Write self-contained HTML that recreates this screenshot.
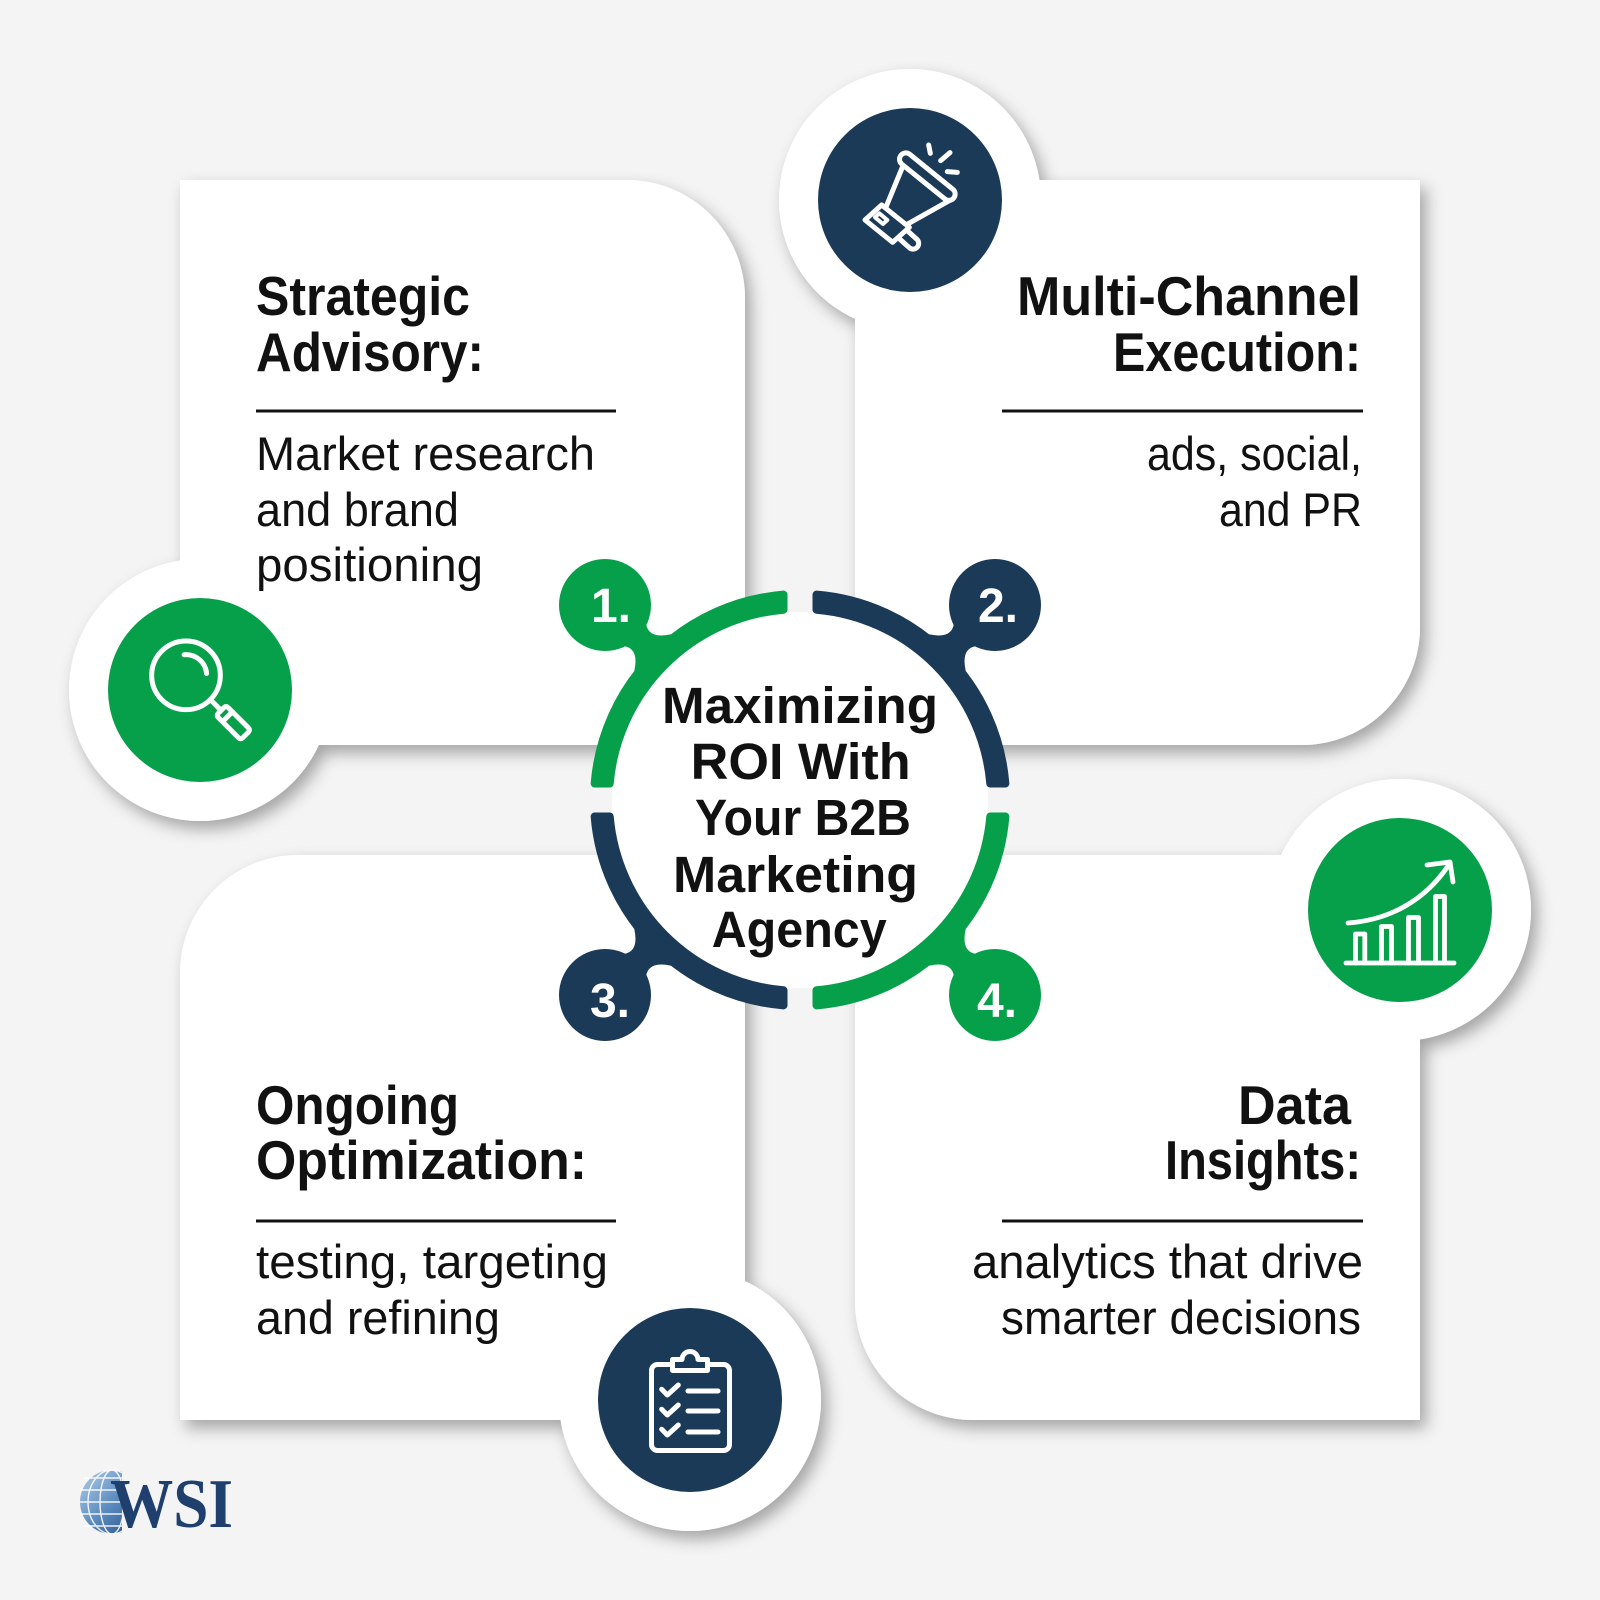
<!DOCTYPE html>
<html>
<head>
<meta charset="utf-8">
<style>
html,body{margin:0;padding:0;background:#f4f4f4;}
svg{display:block;}
text{font-family:"Liberation Sans",Arial,sans-serif;}
</style>
</head>
<body>
<svg width="1600" height="1600" viewBox="0 0 1600 1600" xmlns="http://www.w3.org/2000/svg">
<defs>
  <filter id="sh" x="-20%" y="-20%" width="140%" height="140%">
    <feDropShadow dx="6" dy="8" stdDeviation="8" flood-color="#000" flood-opacity="0.33"/>
  </filter>
  <linearGradient id="gl" x1="0" y1="0" x2="1" y2="1">
    <stop offset="0" stop-color="#b4cfe8"/>
    <stop offset="0.5" stop-color="#5d8cc0"/>
    <stop offset="1" stop-color="#1f4a80"/>
  </linearGradient>
  <clipPath id="gc"><rect x="70" y="1460" width="52" height="80"/></clipPath>
</defs>

<rect width="1600" height="1600" fill="#f4f4f4"/>

<!-- Cards with halos -->
<g filter="url(#sh)" fill="#fff">
  <path d="M180,180 H627 A118,118 0 0 1 745,298 V745 H180 Z"/>
  <circle cx="200" cy="690" r="131"/>
</g>
<g filter="url(#sh)" fill="#fff">
  <path d="M855,180 H1420 V627 A118,118 0 0 1 1302,745 H855 Z"/>
  <circle cx="910" cy="200" r="131"/>
</g>
<g filter="url(#sh)" fill="#fff">
  <path d="M298,855 H745 V1420 H180 V973 A118,118 0 0 1 298,855 Z"/>
  <circle cx="690" cy="1400" r="131"/>
</g>
<g filter="url(#sh)" fill="#fff">
  <path d="M855,855 H1420 V1420 H973 A118,118 0 0 1 855,1302 Z"/>
  <circle cx="1400" cy="910" r="131"/>
</g>

<!-- Icon circles -->
<circle cx="200" cy="690" r="92" fill="#07a04a"/>
<circle cx="910" cy="200" r="92" fill="#1b3a57"/>
<circle cx="690" cy="1400" r="92" fill="#1b3a57"/>
<circle cx="1400" cy="910" r="92" fill="#07a04a"/>

<!-- Magnifier -->
<g transform="translate(110,600) scale(0.3333)" stroke="#fff" stroke-width="15" fill="none" stroke-linecap="round" stroke-linejoin="round">
  <circle cx="228" cy="226" r="103"/>
  <path d="M222.6,164.2 A62,62 0 0 1 289.8,220.6"/>
  <path d="M301,299 L330,328"/>
  <g transform="translate(370,368) rotate(45)">
    <rect x="-52" y="-21" width="104" height="42" rx="8"/>
    <line x1="-25" y1="-21" x2="-25" y2="21"/>
  </g>
</g>

<!-- Megaphone -->
<g transform="translate(820,110) scale(0.3333)" stroke="#fff" stroke-width="15" stroke-linecap="round" stroke-linejoin="round" fill="#1b3a57">
  <rect x="-40" y="-17" width="80" height="34" rx="17" transform="translate(262,385) rotate(42)"/>
  <path d="M250,165 L395,268 L258,345 L196,296 Z"/>
  <path d="M135,330 L185,285 L268,352 L218,397 Z"/>
  <path d="M165,322 L178,310 L202,330 L189,342 Z" fill="none" stroke-width="12"/>
  <rect x="-102" y="-19" width="204" height="38" rx="19" transform="translate(322,200) rotate(39)"/>
  <path d="M326,105 L331,130 M362,152 L390,128 M382,185 L412,187" fill="none"/>
</g>

<!-- Chart -->
<g stroke="#fff" stroke-width="4.8" fill="none" stroke-linecap="round" stroke-linejoin="round">
  <path d="M1346,963 H1454"/>
  <path d="M1355.5,963 V934 H1364.8 V963"/>
  <path d="M1381.5,963 V926.5 H1391.5 V963"/>
  <path d="M1408.5,963 V917.5 H1418.5 V963"/>
  <path d="M1435.5,963 V896.5 H1444.5 V963"/>
  <path d="M1348,923 C1390,920 1425,900 1448,866"/>
  <path d="M1427,865 L1450,862 L1453,882"/>
</g>

<!-- Clipboard -->
<g stroke="#fff" stroke-width="5" fill="none" stroke-linecap="round" stroke-linejoin="round">
  <rect x="651.5" y="1364.5" width="78" height="86" rx="6"/>
  <path d="M672.5,1370.5 V1359.5 H682 A8,8 0 0 1 698,1359.5 H707.5 V1370.5 Z" fill="#1b3a57"/>
  <path d="M661.7,1389.3 L667.3,1395 L678.3,1385"/>
  <path d="M661.7,1409.3 L667.3,1415 L678.3,1405"/>
  <path d="M661.7,1429.3 L667.3,1435 L678.3,1425"/>
  <path d="M688,1391 H718 M688,1411 H718 M688,1432 H718"/>
</g>

<!-- Necks -->
<g>
  <path d="M195,-26 L208.4,-26 Q223,-3 238,-20 L245,-20 L245,20 L238,20 Q223,3 208.4,26 L195,26 Z" fill="#07a04a" transform="translate(800,800) rotate(225)"/>
  <path d="M195,-26 L208.4,-26 Q223,-3 238,-20 L245,-20 L245,20 L238,20 Q223,3 208.4,26 L195,26 Z" fill="#1b3a57" transform="translate(800,800) rotate(315)"/>
  <path d="M195,-26 L208.4,-26 Q223,-3 238,-20 L245,-20 L245,20 L238,20 Q223,3 208.4,26 L195,26 Z" fill="#1b3a57" transform="translate(800,800) rotate(135)"/>
  <path d="M195,-26 L208.4,-26 Q223,-3 238,-20 L245,-20 L245,20 L238,20 Q223,3 208.4,26 L195,26 Z" fill="#07a04a" transform="translate(800,800) rotate(45)"/>
</g>

<!-- Center circle -->
<circle cx="800" cy="800" r="188" fill="#fff"/>
<g stroke-width="8" stroke-linejoin="round">
  <path d="M594.66,783.5 A206,206 0 0 1 783.5,594.66 L783.5,609.71 A191,191 0 0 0 609.71,783.5 Z" fill="#07a04a" stroke="#07a04a"/>
  <path d="M816.5,594.66 A206,206 0 0 1 1005.34,783.5 L990.29,783.5 A191,191 0 0 0 816.5,609.71 Z" fill="#1b3a57" stroke="#1b3a57"/>
  <path d="M1005.34,816.5 A206,206 0 0 1 816.5,1005.34 L816.5,990.29 A191,191 0 0 0 990.29,816.5 Z" fill="#07a04a" stroke="#07a04a"/>
  <path d="M783.5,1005.34 A206,206 0 0 1 594.66,816.5 L609.71,816.5 A191,191 0 0 0 783.5,990.29 Z" fill="#1b3a57" stroke="#1b3a57"/>
</g>

<!-- Number circles -->
<circle cx="605" cy="605" r="46" fill="#07a04a"/>
<circle cx="995" cy="605" r="46" fill="#1b3a57"/>
<circle cx="605" cy="995" r="46" fill="#1b3a57"/>
<circle cx="995" cy="995" r="46" fill="#07a04a"/>
<g fill="#fff" font-weight="bold" font-size="48" text-anchor="middle">
  <text x="611" y="622">1.</text>
  <text x="998" y="622">2.</text>
  <text x="610" y="1017">3.</text>
  <text x="997" y="1017">4.</text>
</g>

<!-- Center text -->
<g fill="#111" font-weight="bold" font-size="51">
  <text x="662" y="723" textLength="276" lengthAdjust="spacingAndGlyphs">Maximizing</text>
  <text x="690.7" y="779" textLength="220" lengthAdjust="spacingAndGlyphs">ROI With</text>
  <text x="695" y="835" textLength="216" lengthAdjust="spacingAndGlyphs">Your B2B</text>
  <text x="673" y="892" textLength="245" lengthAdjust="spacingAndGlyphs">Marketing</text>
  <text x="711.7" y="947" textLength="175" lengthAdjust="spacingAndGlyphs">Agency</text>
</g>

<!-- Card texts -->
<g fill="#111">
  <!-- TL -->
  <text x="256" y="315" font-weight="bold" font-size="55" textLength="214" lengthAdjust="spacingAndGlyphs">Strategic</text>
  <text x="256" y="371" font-weight="bold" font-size="55" textLength="228" lengthAdjust="spacingAndGlyphs">Advisory:</text>
  <rect x="256" y="409.5" width="360" height="3"/>
  <text x="256" y="470" font-size="47" textLength="339" lengthAdjust="spacingAndGlyphs">Market research</text>
  <text x="256" y="526" font-size="47" textLength="203" lengthAdjust="spacingAndGlyphs">and brand</text>
  <text x="256" y="581" font-size="47" textLength="227" lengthAdjust="spacingAndGlyphs">positioning</text>

  <!-- TR -->
  <text x="1017" y="315" font-weight="bold" font-size="55" textLength="344" lengthAdjust="spacingAndGlyphs">Multi-Channel</text>
  <text x="1113" y="371" font-weight="bold" font-size="55" textLength="248" lengthAdjust="spacingAndGlyphs">Execution:</text>
  <rect x="1002" y="409.5" width="361" height="3"/>
  <text x="1147" y="470" font-size="47" textLength="215" lengthAdjust="spacingAndGlyphs">ads, social,</text>
  <text x="1219" y="526" font-size="47" textLength="143" lengthAdjust="spacingAndGlyphs">and PR</text>

  <!-- BL -->
  <text x="256" y="1124" font-weight="bold" font-size="55" textLength="203" lengthAdjust="spacingAndGlyphs">Ongoing</text>
  <text x="256" y="1179" font-weight="bold" font-size="55" textLength="331" lengthAdjust="spacingAndGlyphs">Optimization:</text>
  <rect x="256" y="1219.5" width="360" height="3"/>
  <text x="256" y="1278" font-size="47" textLength="352" lengthAdjust="spacingAndGlyphs">testing, targeting</text>
  <text x="256" y="1334" font-size="47" textLength="244" lengthAdjust="spacingAndGlyphs">and refining</text>

  <!-- BR -->
  <text x="1238" y="1124" font-weight="bold" font-size="55" textLength="113" lengthAdjust="spacingAndGlyphs">Data</text>
  <text x="1165" y="1179" font-weight="bold" font-size="55" textLength="196" lengthAdjust="spacingAndGlyphs">Insights:</text>
  <rect x="1002" y="1219.5" width="361" height="3"/>
  <text x="972" y="1278" font-size="47" textLength="391" lengthAdjust="spacingAndGlyphs">analytics that drive</text>
  <text x="1001" y="1334" font-size="47" textLength="360" lengthAdjust="spacingAndGlyphs">smarter decisions</text>
</g>

<!-- WSI logo -->
<g clip-path="url(#gc)">
  <circle cx="112" cy="1502" r="32" fill="url(#gl)"/>
  <g stroke="#fff" stroke-width="1.4" fill="none" opacity="0.9">
    <ellipse cx="112" cy="1502" rx="12" ry="32"/>
    <ellipse cx="112" cy="1502" rx="24" ry="32"/>
    <path d="M80,1490 H144 M80,1502 H144 M80,1514 H144 M84,1478 H140 M84,1526 H140"/>
  </g>
</g>
<text x="110" y="1527" font-family="'Liberation Serif',serif" font-weight="bold" font-size="70" fill="#1f3f6f" textLength="123" lengthAdjust="spacingAndGlyphs" style="font-family:'Liberation Serif',serif">WSI</text>
</svg>
</body>
</html>
